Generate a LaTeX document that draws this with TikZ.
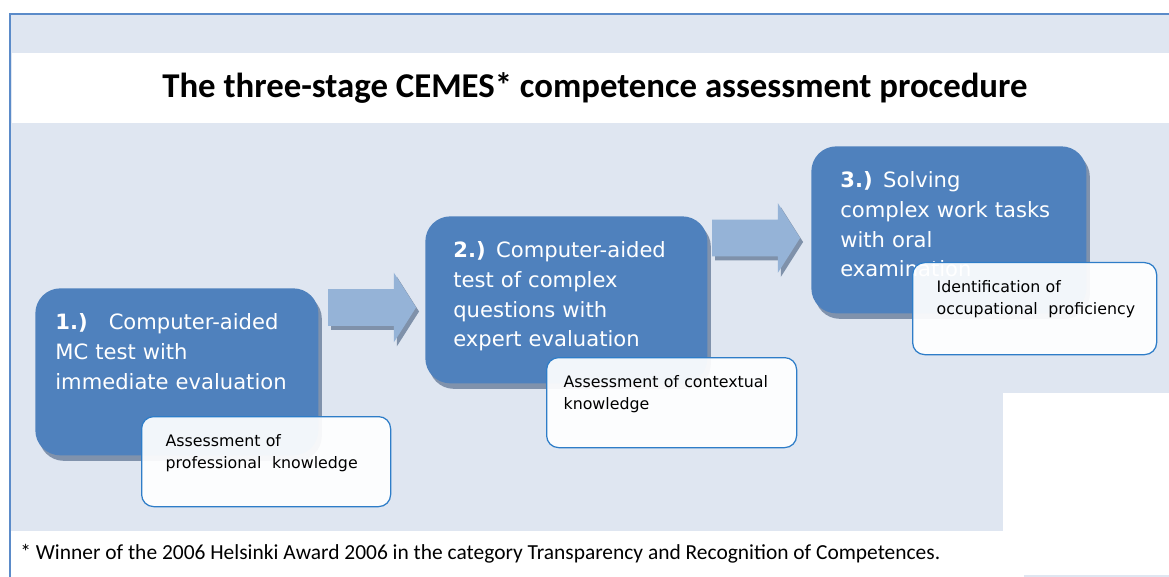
\documentclass[tikz,border=0pt]{standalone}
\usepackage{fontspec}
\setmainfont{DejaVu Sans}
\newfontfamily\calibri{Carlito}
\usetikzlibrary{shapes, arrows, shadows, positioning}

\definecolor{panel}{RGB}{223,230,241}
\definecolor{frameblue}{RGB}{91,139,201}
\definecolor{stageblue}{RGB}{79,129,189}
\definecolor{stageshadow}{RGB}{128,146,172}
\definecolor{arrowblue}{RGB}{149,179,215}
\definecolor{arrowshadow}{RGB}{127,145,170}
\definecolor{noteline}{RGB}{46,125,200}

\tikzset{
    stage/.style={
           rectangle,
           rounded corners=5mm,
           fill=stageblue,
           text=white,
           align=left,
           anchor=north west,
           inner ysep=0pt,
           text height=8.2mm,
           text depth=25.2mm,
           font=\fontsize{12}{17}\selectfont,
           drop shadow={shadow xshift=0.7mm, shadow yshift=-1.1mm,
                        fill=stageshadow, opacity=1},
           },
    flow/.style={
           single arrow,
           fill=arrowblue,
           anchor=tail,
           minimum height=17.6mm,
           inner xsep=0pt,
           inner ysep=3.6mm,
           single arrow head extend=3.3mm,
           single arrow tip angle=115,
           drop shadow={shadow xshift=0.6mm, shadow yshift=-0.8mm,
                        fill=arrowshadow, opacity=1},
           },
    note/.style={
           rectangle,
           rounded corners=2.4mm,
           draw=noteline,
           line width=0.25mm,
           fill=white, fill opacity=0.93, text opacity=1,
           text=black,
           align=left,
           anchor=north west,
           inner xsep=4.8mm,
           inner ysep=0pt,
           text height=6mm,
           text depth=12mm,
           font=\fontsize{9}{12.5}\selectfont,
           },
}

\begin{document}
\begin{tikzpicture}[x=0.2mm, y=-0.2mm]

 \useasboundingbox (0,0) rectangle (1169,577);

 % panel and frame
 \fill[panel] (10,14) rectangle (1169,531);
 \fill[white] (12,53) rectangle (1169,123);
 \fill[white] (11,531) rectangle (1169,577);
 \fill[white] (1003,393) rectangle (1169,531);
 \fill[panel] (1024,575) rectangle (1169,577);
 \draw[frameblue, line width=0.4mm] (10,577) -- (10,14) -- (1169,14);

 \node[font=\calibri\bfseries\fontsize{19.8}{24}\selectfont] (TITLE) at (595,88)
 {%
  The three-stage CEMES* competence assessment procedure
 };

 \node[stage,
  inner xsep=4mm,
  text width=48.6mm] (STAGE_1) at (35,288)
 {%
  \textbf{1.)}\ \ \ Computer-aided\\
  MC test with\\
  immediate evaluation
 };

 \node[stage,
  inner xsep=5.6mm,
  text width=45.2mm] (STAGE_2) at (425,216)
 {%
  \textbf{2.)} Computer-aided\\
  test of complex\\
  questions with\\
  expert evaluation
 };

 \node[stage,
  inner xsep=5.8mm,
  text width=43.4mm] (STAGE_3) at (811,146)
 {%
  \textbf{3.)} Solving\\
  complex work tasks\\
  with oral\\
  examination
 };

 \node[flow,
  at=(STAGE_1.north east),
  xshift=1.8mm,
  yshift=-3.9mm] (ARROW_1) {};

 \node[flow,
  at=(STAGE_2.north east),
  xshift=0.8mm,
  yshift=-4.4mm] (ARROW_2) {};

 \node[note,
  at=(STAGE_1.north west),
  xshift=21.2mm,
  yshift=-25.6mm,
  text width=40.2mm] (NOTE_1)
 {%
  Assessment of\\
  \mbox{professional\ \ knowledge}
 };

 \node[note,
  at=(STAGE_2.north west),
  xshift=24.2mm,
  yshift=-28.2mm,
  inner xsep=3.4mm,
  text width=43.2mm] (NOTE_2)
 {%
  \mbox{Assessment of contextual}\\
  knowledge
 };

 \node[note,
  at=(STAGE_3.north west),
  xshift=20.2mm,
  yshift=-23.2mm,
  text depth=12.4mm,
  text width=39.2mm] (NOTE_3)
 {%
  Identification of\\
  \mbox{occupational\ \ proficiency}
 };

 \node[anchor=west, inner sep=0pt,
  font=\calibri\fontsize{12.2}{15}\selectfont] (FOOTNOTE) at (20,554)
 {%
  * Winner of the 2006 Helsinki Award 2006 in the category Transparency and Recognition of Competences.
 };

\end{tikzpicture}
\end{document}
